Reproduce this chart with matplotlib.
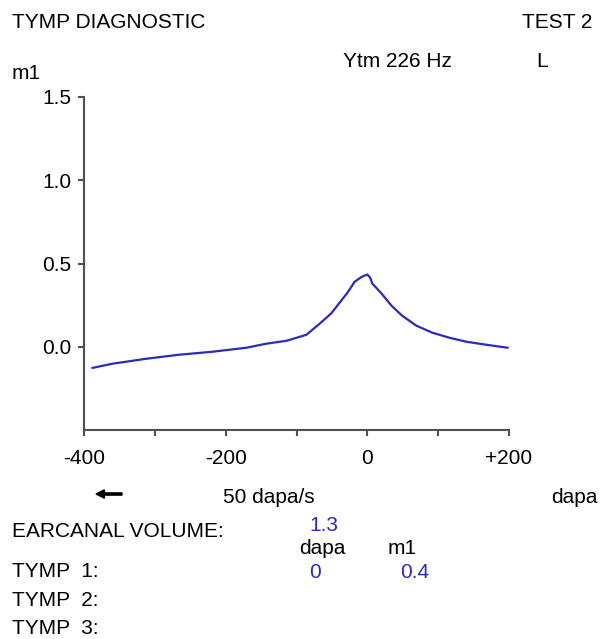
import matplotlib
matplotlib.use("Agg")
import matplotlib.pyplot as plt

plt.rcParams['font.family'] = ['Liberation Sans', 'DejaVu Sans']

# tympanogram trace (pressure in dapa, admittance in m1)
pressure = [-388, -360, -312, -266, -219, -171, -143, -114, -86, -68, -51,
            -40, -28, -18, -8, 0, 4, 7, 20, 34, 49, 69, 92, 116, 140, 168, 198]
admittance = [-0.127, -0.102, -0.072, -0.048, -0.030, -0.006, 0.018, 0.036,
              0.072, 0.136, 0.2, 0.26, 0.325, 0.39, 0.42, 0.434, 0.415, 0.38,
              0.32, 0.247, 0.187, 0.127, 0.084, 0.054, 0.03, 0.012, -0.006]

x_major = [-400, -200, 0, 200]
x_major_labels = ['-400', '-200', '0', '+200']
x_minor = [-300, -100, 100]
y_ticks = [0.0, 0.5, 1.0, 1.5]
y_labels = ['0.0', '0.5', '1.0', '1.5']

earcanal_volume = '1.3'
tymp1_dapa = '0'
tymp1_m1 = '0.4'

W, H = 602, 639
blue = '#2b2bb8'
fs = 15

fig = plt.figure(figsize=(W / 100, H / 100), dpi=100)

def fx(x):
    return x / W

def fy(y):
    return 1 - y / H

ax = fig.add_axes([fx(84), fy(430), (509 - 84) / W, (430 - 97) / H])
ax.plot(pressure, admittance, color=blue, lw=1.6)
ax.set_xlim(-400, 200)
ax.set_ylim(-0.5, 1.5)

ax.set_xticks(x_major)
ax.set_xticklabels(x_major_labels)
ax.set_xticks(x_minor, minor=True)
ax.set_yticks(y_ticks)
ax.set_yticklabels(y_labels)
for sp in ['top', 'right']:
    ax.spines[sp].set_visible(False)
for sp in ['left', 'bottom']:
    ax.spines[sp].set_color('#505050')
    ax.spines[sp].set_linewidth(1.5)
ax.tick_params(which='both', length=4.3, width=1.5, color='#505050',
               labelsize=fs)
ax.tick_params(axis='x', pad=9.5)
ax.tick_params(axis='y', pad=5)

def label(x, y, s, **kw):
    fig.text(fx(x), fy(y), s, fontsize=fs, va='baseline', **kw)

# header texts
label(12, 28, 'TYMP DIAGNOSTIC')
label(592, 28, 'TEST 2', ha='right')
label(12, 79, 'm1')
label(343, 67, 'Ytm 226 Hz')
label(536, 67, 'L')

# below the chart
fig.patches.append(matplotlib.patches.FancyArrow(
    fx(122), fy(494), fx(96) - fx(122), 0, width=0.0035, head_width=0.013,
    head_length=0.014, length_includes_head=True, color='black',
    transform=fig.transFigure, figure=fig))
label(223, 503, '50 dapa/s')
label(597, 503, 'dapa', ha='right')

label(12, 537, 'EARCANAL VOLUME:')
label(324, 531, earcanal_volume, ha='center', color=blue)
label(322, 554, 'dapa', ha='center')
label(402, 554, 'm1', ha='center')

label(12, 577, 'TYMP  1:')
label(315, 578, tymp1_dapa, ha='center', color=blue)
label(415, 578, tymp1_m1, ha='center', color=blue)
label(12, 606, 'TYMP  2:')
label(12, 634, 'TYMP  3:')

fig.savefig('out.png', dpi=100)
